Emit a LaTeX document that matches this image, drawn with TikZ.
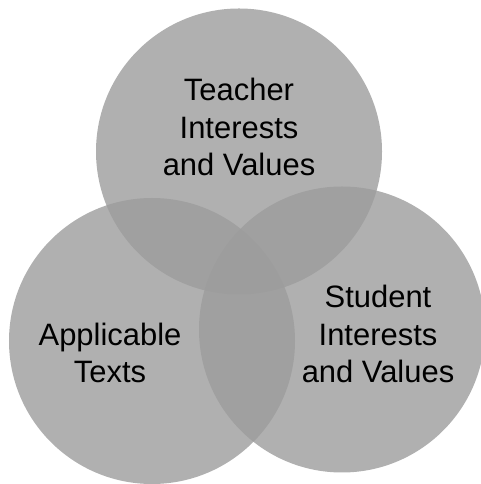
\documentclass[tikz,border=0pt]{standalone}
\usepackage{fontspec}
\setmainfont{Liberation Sans}
\definecolor{circlegray}{RGB}{156,156,156}
\tikzset{ venn/.style={ fill=circlegray, fill opacity=0.8 } }
\tikzset{ vtext/.style={ align=center, font=\fontsize{17.6}{21.5}\selectfont } }

\begin{document}
\begin{tikzpicture}
	\useasboundingbox (0, 0) rectangle (9.6, 9.68);
	%\draw[thick,dotted] (0, 0) rectangle (9.6, 9.68);
	\fill [venn] (4.78, 6.65) circle(2.86);
	\fill [venn] (3.04, 2.86) circle(2.86);
	\fill [venn] (6.84, 3.09) circle(2.86);

	\node [vtext] (T) at (4.78, 7.14) {Teacher\\Interests\\and Values};
	\node [vtext] (A) at (2.20, 2.62) {Applicable\\Texts};
	\node [vtext] (S) at (7.56, 3.00) {Student\\Interests\\and Values};
\end{tikzpicture}
\end{document}
